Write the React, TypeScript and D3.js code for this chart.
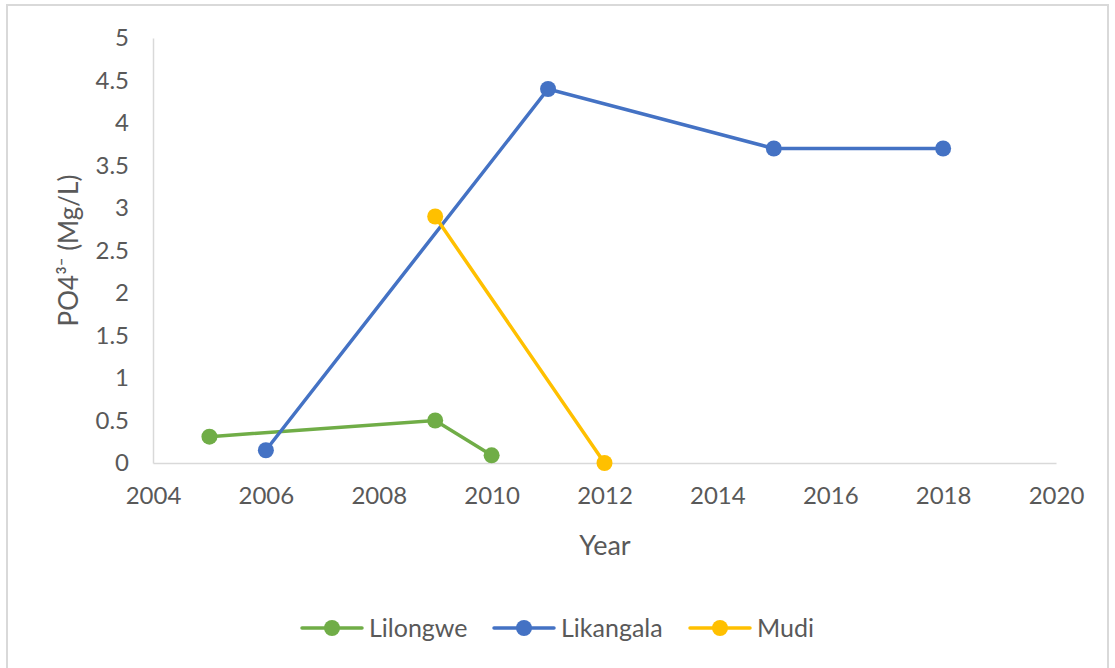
import React, { useEffect, useRef } from "react";
import * as d3 from "d3";

// PO4 values per site
const lilongweYears = [2005, 2009, 2010];
const lilongweValues = [0.31, 0.5, 0.09];

const likangalaYears = [2006, 2011, 2015, 2018];
const likangalaValues = [0.15, 4.4, 3.7, 3.7];

const mudiYears = [2009, 2012];
const mudiValues = [2.9, 0];

const seriesNames = ["Lilongwe", "Likangala", "Mudi"];
const seriesColors = ["#70AD47", "#4472C4", "#FFC000"];

const xTicks = [2004, 2006, 2008, 2010, 2012, 2014, 2016, 2018, 2020];
const yTicks = [0, 0.5, 1, 1.5, 2, 2.5, 3, 3.5, 4, 4.5, 5];

const W = 1115;
const H = 668;
const FONT = "Lato, 'Open Sans', sans-serif";

export default function App() {
  const ref = useRef<SVGSVGElement>(null);

  useEffect(() => {
    const svg = d3.select(ref.current);
    svg.selectAll("*").remove();

    // outer chart frame
    svg.append("rect")
      .attr("x", 7).attr("y", 5)
      .attr("width", W - 14).attr("height", H + 10)
      .attr("fill", "#fff")
      .attr("stroke", "#d9d9d9")
      .attr("stroke-width", 2);

    const x = d3.scaleLinear().domain([2004, 2020]).range([153, 1056]);
    const y = d3.scaleLinear().domain([0, 5]).range([463, 38]);

    // axes
    const xAxis = svg.append("g")
      .attr("transform", `translate(0,${y(0)})`)
      .call(d3.axisBottom(x).tickValues(xTicks).tickFormat(d3.format("d")).tickSize(0).tickPadding(24));
    xAxis.select(".domain").attr("stroke", "#d9d9d9").attr("stroke-width", 1.5);

    const yAxis = svg.append("g")
      .attr("transform", `translate(${x(2004)},0)`)
      .call(d3.axisLeft(y).tickValues(yTicks).tickFormat((d) => String(d)).tickSize(0).tickPadding(24));
    yAxis.select(".domain").attr("stroke", "#d9d9d9").attr("stroke-width", 1.5);

    svg.selectAll(".tick text")
      .attr("fill", "#595959")
      .style("font-family", FONT)
      .style("font-size", "24px");

    // axis titles
    svg.append("text")
      .attr("x", 605).attr("y", 555)
      .attr("text-anchor", "middle")
      .attr("fill", "#595959")
      .style("font-family", FONT)
      .style("font-size", "27px")
      .text("Year");

    svg.append("text")
      .attr("transform", `translate(78,${y(2.5)}) rotate(-90)`)
      .attr("text-anchor", "middle")
      .attr("fill", "#595959")
      .style("font-family", FONT)
      .style("font-size", "26px")
      .text("PO4³⁻ (Mg/L)");

    const series = [
      { years: lilongweYears, values: lilongweValues },
      { years: likangalaYears, values: likangalaValues },
      { years: mudiYears, values: mudiValues },
    ];

    const line = d3.line<[number, number]>()
      .x((d) => x(d[0]))
      .y((d) => y(d[1]));

    series.forEach((s, i) => {
      const pts: [number, number][] = s.years.map((yr, j) => [yr, s.values[j]]);
      svg.append("path")
        .datum(pts)
        .attr("d", line)
        .attr("fill", "none")
        .attr("stroke", seriesColors[i])
        .attr("stroke-width", 3.5)
        .attr("stroke-linecap", "round");
      svg.append("g")
        .selectAll("circle")
        .data(pts)
        .enter()
        .append("circle")
        .attr("cx", (d) => x(d[0]))
        .attr("cy", (d) => y(d[1]))
        .attr("r", 8)
        .attr("fill", seriesColors[i]);
    });

    // legend
    const legendX = [302, 494, 690];
    const legendY = 628;
    seriesNames.forEach((name, i) => {
      const g = svg.append("g").attr("transform", `translate(${legendX[i]},${legendY})`);
      g.append("line")
        .attr("x1", 0).attr("x2", 60)
        .attr("y1", 0).attr("y2", 0)
        .attr("stroke", seriesColors[i])
        .attr("stroke-width", 3.5)
        .attr("stroke-linecap", "round");
      g.append("circle").attr("cx", 30).attr("cy", 0).attr("r", 8).attr("fill", seriesColors[i]);
      g.append("text")
        .attr("x", 67).attr("y", 9)
        .attr("fill", "#595959")
        .style("font-family", FONT)
        .style("font-size", "25px")
        .text(name);
    });
  }, []);

  return (
    <svg
      ref={ref}
      width={W}
      height={H}
      style={{ position: "absolute", left: 0, top: 0, background: "#fff" }}
    />
  );
}
